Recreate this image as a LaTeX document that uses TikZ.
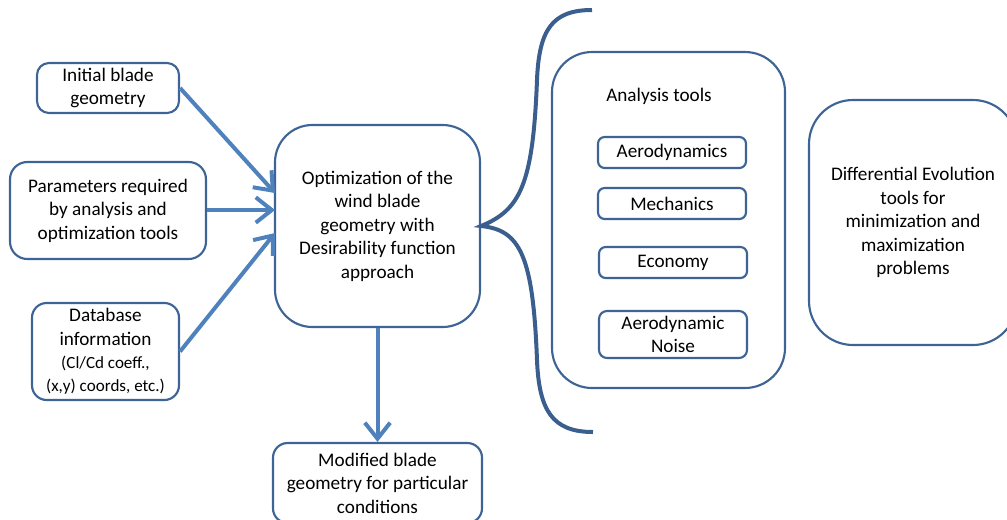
\documentclass[tikz,border=0pt]{standalone}
\usepackage{fontspec}
\setmainfont{Carlito}
\usetikzlibrary{arrows.meta}
\definecolor{bord}{HTML}{3E6496}
\definecolor{arr}{HTML}{4F81BD}
\definecolor{brc}{HTML}{3A5F8E}
\begin{document}
\begin{tikzpicture}[x=0.75pt,y=-0.75pt,
  bx/.style={draw=bord,line width=1.6pt,align=center,inner sep=0pt,fill=white,
    font=\fontsize{14.4}{17.6}\selectfont},
  ar/.style={draw=arr,line width=3pt,-{Straight Barb[length=12pt,width=19pt]}}]
\useasboundingbox (0,0) rectangle (1007,519);
\node[bx,minimum width=142*0.75pt,minimum height=50*0.75pt,rounded corners=9pt] (init) at (108,88) {Initial blade\\geometry};
\node[bx,minimum width=196*0.75pt,minimum height=97*0.75pt,rounded corners=13pt] (param) at (108,210.5) {Parameters required\\by analysis and\\optimization tools};
\node[bx,minimum width=147*0.75pt,minimum height=97*0.75pt,rounded corners=11pt] (db) at (105.5,351.5) {Database\\information\\{\fontsize{12.8}{17.6}\selectfont (Cl/Cd coeff.,}\\{\fontsize{12.8}{17.6}\selectfont (x,y) coords, etc.)}};
\node[bx,minimum width=205*0.75pt,minimum height=202*0.75pt,rounded corners=28pt] (opt) at (377.5,226) {Optimization of the\\wind blade\\geometry with\\Desirability function\\approach};
\node[bx,minimum width=209*0.75pt,minimum height=80*0.75pt,rounded corners=11pt] (mod) at (377.5,483) {Modified blade\\geometry for particular\\conditions};
\node[bx,minimum width=233*0.75pt,minimum height=336*0.75pt,rounded corners=30pt] (ana) at (668.5,220) {};
\node[font=\fontsize{14.4}{17.6}\selectfont,inner sep=0pt] (anat) at (659,96.5) {Analysis tools};
\node[bx,minimum width=148*0.75pt,minimum height=31*0.75pt,rounded corners=5pt] (aero) at (672,152.5) {Aerodynamics};
\node[bx,minimum width=148*0.75pt,minimum height=31*0.75pt,rounded corners=5pt] (mech) at (672,203.5) {Mechanics};
\node[bx,minimum width=148*0.75pt,minimum height=31*0.75pt,rounded corners=5pt] (econ) at (673,262.5) {Economy};
\node[bx,minimum width=148*0.75pt,minimum height=47*0.75pt,rounded corners=6pt] (noise) at (673,334.5) {Aerodynamic\\Noise};
\node[bx,minimum width=208*0.75pt,minimum height=245*0.75pt,rounded corners=33pt] (diff) at (913,222.5) {Differential Evolution\\tools for\\minimization and\\maximization\\problems};
% arrows
\coordinate (t1) at (275,193);
\coordinate (t2) at (275,210);
\coordinate (t3) at (275,233);
\draw[ar] (init.east) -- (t1);
\draw[ar] (param.east |- t2) -- (t2);
\draw[ar] (db.east) -- (t3);
\draw[ar] (opt.south) -- (mod.north);
% brace
\coordinate (bt) at (592,10);
\coordinate (bb) at (593,432);
\draw[brc,line width=3pt] (bt) .. controls (552,10) and (539,30) .. (537,80)
  .. controls (533,185) and (520,210) .. (opt.east)
  .. controls (520,230) and (533,255) .. (537,360)
  .. controls (539,410) and (552,432) .. (bb);
\end{tikzpicture}
\end{document}
